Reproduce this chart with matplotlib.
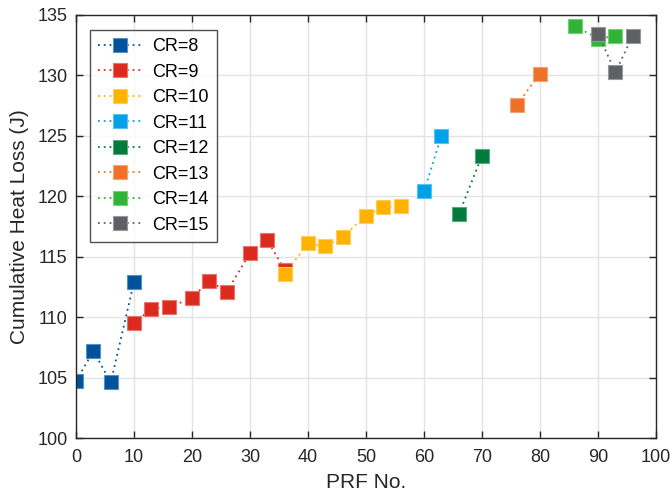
import matplotlib
matplotlib.use("Agg")
import matplotlib.pyplot as plt
from matplotlib.colors import to_rgb

plt.rcParams['font.family'] = ['Liberation Sans', 'DejaVu Sans']

labels = ["CR=8", "CR=9", "CR=10", "CR=11", "CR=12", "CR=13", "CR=14", "CR=15"]
colors = ["#00539B", "#DC2A1E", "#FFB300", "#00A1E8", "#007A3D", "#EE7127", "#30B337", "#5F6064"]

prf = [
    [0, 3, 6, 10],
    [10, 13, 16, 20, 23, 26, 30, 33, 36],
    [36, 40, 43, 46, 50, 53, 56],
    [60, 63],
    [66, 70],
    [76, 80],
    [86, 90, 93],
    [90, 93, 96],
]
heat = [
    [104.7, 107.2, 104.6, 112.9],
    [109.5, 110.7, 110.8, 111.6, 113.0, 112.1, 115.3, 116.35, 113.9],
    [113.6, 116.1, 115.85, 116.65, 118.4, 119.1, 119.2],
    [120.4, 125.0],
    [118.5, 123.35],
    [127.55, 130.15],
    [134.1, 133.05, 133.25],
    [133.45, 130.25, 133.3],
]

fig = plt.figure(figsize=(6.7, 4.99), dpi=100)
ax = fig.add_axes([0.1134, 0.1222, 0.8657, 0.8478])

for x, y, c, lab in zip(prf, heat, colors, labels):
    r, g, b = to_rgb(c)
    edge = (r + (1 - r) * 0.35, g + (1 - g) * 0.35, b + (1 - b) * 0.35)
    ax.plot(x, y, linestyle=(0, (1, 2.2)), linewidth=1.3, color=c,
            marker='s', markersize=10, markerfacecolor=c,
            markeredgecolor=edge, markeredgewidth=0.8, label=lab)

ax.set_xlim(0, 100)
ax.set_ylim(100, 135)
ax.set_xticks(range(0, 101, 10))
ax.set_yticks(range(100, 136, 5))
ax.grid(True, color='#e3e3e3', linewidth=1.0)
ax.set_axisbelow(True)
ax.tick_params(direction='in', top=True, right=True, labelsize=13,
               length=5, width=1.0, colors='#262626', labelcolor='#262626')
ax.tick_params(axis='x', pad=8)
ax.tick_params(axis='y', pad=6)
for s in ax.spines.values():
    s.set_color('#262626')
    s.set_linewidth(1.0)

ax.set_xlabel("PRF No.", fontsize=15, color='#262626', labelpad=5)
ax.set_ylabel("Cumulative Heat Loss (J)", fontsize=15, color='#262626', labelpad=6)

leg = ax.legend(loc='upper left', bbox_to_anchor=(0.0236, 0.9645), fontsize=13,
                frameon=True, fancybox=False, edgecolor='#262626',
                handlelength=2.5, handletextpad=0.5, labelspacing=0.47,
                borderpad=0.45, borderaxespad=0.0)
leg.get_frame().set_linewidth(1.0)

fig.savefig("out.png", dpi=100)
